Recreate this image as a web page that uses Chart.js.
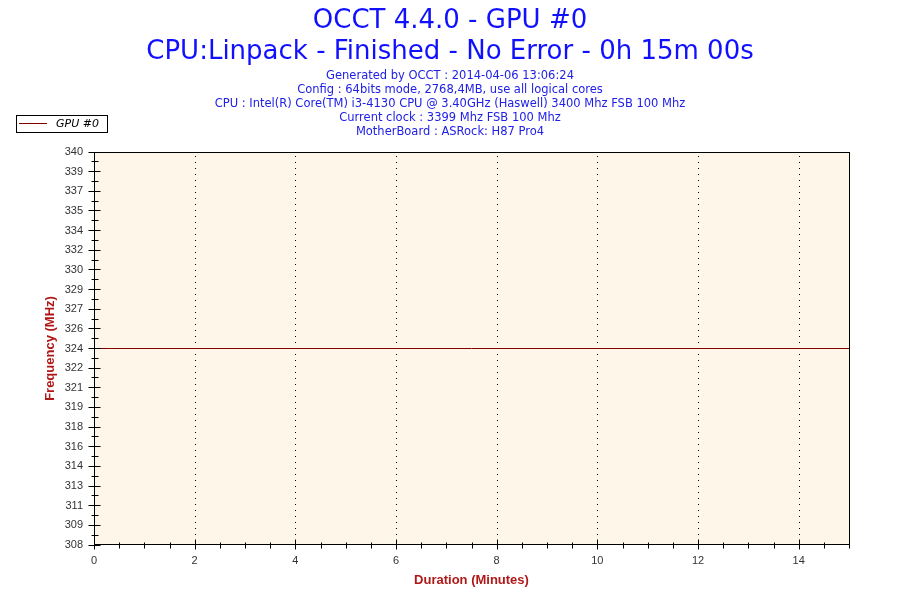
<!DOCTYPE html>
<html>
<head>
<meta charset="utf-8">
<script src="https://cdn.jsdelivr.net/npm/chart.js@4"></script>
<style>
html,body{margin:0;padding:0;background:#fff;}
canvas{display:block;}
</style>
</head>
<body>
<canvas id="c" width="900" height="600"></canvas>
<script>
// ---- data ----
const titleLines = ["OCCT 4.4.0 - GPU #0", "CPU:Linpack - Finished - No Error - 0h 15m 00s"];
const infoLines = [
  "Generated by OCCT : 2014-04-06 13:06:24",
  "Config : 64bits mode, 2768,4MB, use all logical cores",
  "CPU : Intel(R) Core(TM) i3-4130 CPU @ 3.40GHz (Haswell) 3400 Mhz FSB 100 Mhz",
  "Current clock : 3399 Mhz FSB 100 Mhz",
  "MotherBoard : ASRock: H87 Pro4"
];
const seriesName = "GPU #0";
const durationMin = [0, 15];
const frequencyMHz = [324, 324];
const xTickLabels = ["0", "2", "4", "6", "8", "10", "12", "14"];
const yTickLabels = ["308","309","311","313","314","316","318","319","321","322","324","326","327","329","330","332","334","335","337","339","340"];
const yMin = 308, yMax = 340, xMin = 0, xMax = 15;

const yStep = (yMax - yMin) / (yTickLabels.length - 1);

const decorPlugin = {
  id: 'decor',
  beforeDraw(chart) {
    const {ctx, chartArea: a} = chart;
    ctx.save();
    ctx.fillStyle = '#fef7e9';
    ctx.fillRect(a.left, a.top, a.right - a.left + 1, a.bottom - a.top);
    // dotted vertical grid at labelled minutes
    const xs = chart.scales.x;
    ctx.strokeStyle = '#000';
    ctx.lineWidth = 1;
    ctx.setLineDash([1, 5]);
    ctx.beginPath();
    xTickLabels.forEach(l => {
      const v = Number(l);
      if (v <= xMin || v >= xMax) return;
      const px = Math.round(xs.getPixelForValue(v)) + 0.5;
      ctx.moveTo(px, a.top + 4);
      ctx.lineTo(px, a.bottom);
    });
    ctx.stroke();
    ctx.restore();
  },
  afterDraw(chart) {
    const {ctx, chartArea: a} = chart;
    const xs = chart.scales.x, ys = chart.scales.y;
    const L = Math.round(a.left) + 0.5, T = Math.round(a.top) + 0.5;
    const R = Math.round(a.right) + 0.5, B = Math.floor(a.bottom) - 0.5;
    ctx.save();
    // border
    ctx.strokeStyle = '#000';
    ctx.lineWidth = 1;
    ctx.strokeRect(L, T, R - L, B - T);
    // x ticks (major at labels, minor every 0.5)
    ctx.beginPath();
    for (let v = xMin; v <= xMax + 1e-9; v += 0.5) {
      const px = Math.round(xs.getPixelForValue(v)) + 0.5;
      const major = Math.abs(v % 2) < 1e-9;
      const up = major ? 5 : 2, down = major ? 5 : 4;
      ctx.moveTo(px, B - up);
      ctx.lineTo(px, B + down);
    }
    // y ticks
    for (let i = 0; i < yTickLabels.length * 2 - 1; i++) {
      const v = yMin + i * yStep / 2;
      const py = Math.round(ys.getPixelForValue(v) - 0.5) + 0.5;
      const major = i % 2 === 0;
      const left = major ? 6 : 3, right = major ? 6 : 4;
      ctx.moveTo(L - left, py);
      ctx.lineTo(L + right, py);
    }
    ctx.stroke();

    // titles
    ctx.textAlign = 'center';
    ctx.textBaseline = 'middle';
    ctx.fillStyle = '#1010ff';
    ctx.font = '26px "DejaVu Sans"';
    ctx.fillText(titleLines[0], 450, 21);
    ctx.fillText(titleLines[1], 450, 52);
    ctx.fillStyle = '#2020e6';
    ctx.font = '11.5px "DejaVu Sans"';
    infoLines.forEach((t, i) => ctx.fillText(t, 450, 76 + i * 14));

    // legend
    ctx.fillStyle = '#fff';
    ctx.fillRect(16, 115, 92, 17);
    ctx.strokeStyle = '#000';
    ctx.strokeRect(16.5, 115.5, 91, 17);
    ctx.strokeStyle = '#800000';
    ctx.beginPath();
    ctx.moveTo(19, 123.5);
    ctx.lineTo(47, 123.5);
    ctx.stroke();
    ctx.fillStyle = '#000';
    ctx.textAlign = 'left';
    ctx.font = 'italic 11px "DejaVu Sans"';
    ctx.fillText(seriesName, 56, 124);
    ctx.restore();
  }
};

new Chart(document.getElementById('c'), {
  type: 'line',
  data: {
    datasets: [{
      label: seriesName,
      data: durationMin.map((x, i) => ({x, y: frequencyMHz[i]})),
      borderColor: '#800000',
      borderWidth: 1,
      pointRadius: 0,
      fill: false,
      tension: 0
    }]
  },
  options: {
    responsive: false,
    animation: false,
    devicePixelRatio: 1,
    layout: {padding: {top: 152, right: 51, left: 0, bottom: 0}},
    plugins: {legend: {display: false}, title: {display: false}, tooltip: {enabled: false}},
    scales: {
      x: {
        type: 'linear',
        min: xMin, max: xMax,
        afterBuildTicks(s) { s.ticks = xTickLabels.map(l => ({value: Number(l)})); },
        afterFit(s) { s.height = 55; },
        ticks: {
          callback: (v, i) => xTickLabels[i],
          color: '#333', font: {family: '"Liberation Sans", Arial', size: 11},
          padding: 9, maxRotation: 0, autoSkip: false
        },
        grid: {display: false, drawTicks: false},
        border: {display: false},
        title: {
          display: true, text: 'Duration (Minutes)', color: '#b01818',
          font: {family: '"Liberation Sans", Arial', size: 13, weight: 'bold'},
          padding: {top: 0, bottom: 12}
        }
      },
      y: {
        type: 'linear',
        min: yMin, max: yMax,
        afterBuildTicks(s) { s.ticks = yTickLabels.map((l, i) => ({value: yMin + i * yStep})); },
        afterFit(s) { s.width = 94; },
        ticks: {
          callback: (v, i) => yTickLabels[i],
          color: '#333', font: {family: '"Liberation Sans", Arial', size: 11},
          padding: 11, autoSkip: false
        },
        grid: {display: false, drawTicks: false},
        border: {display: false},
        title: {
          display: true, text: 'Frequency (MHz)', color: '#b01818',
          font: {family: '"Liberation Sans", Arial', size: 13, weight: 'bold'},
          padding: {top: 43, bottom: 0}
        }
      }
    }
  },
  plugins: [decorPlugin]
});
</script>
</body>
</html>
